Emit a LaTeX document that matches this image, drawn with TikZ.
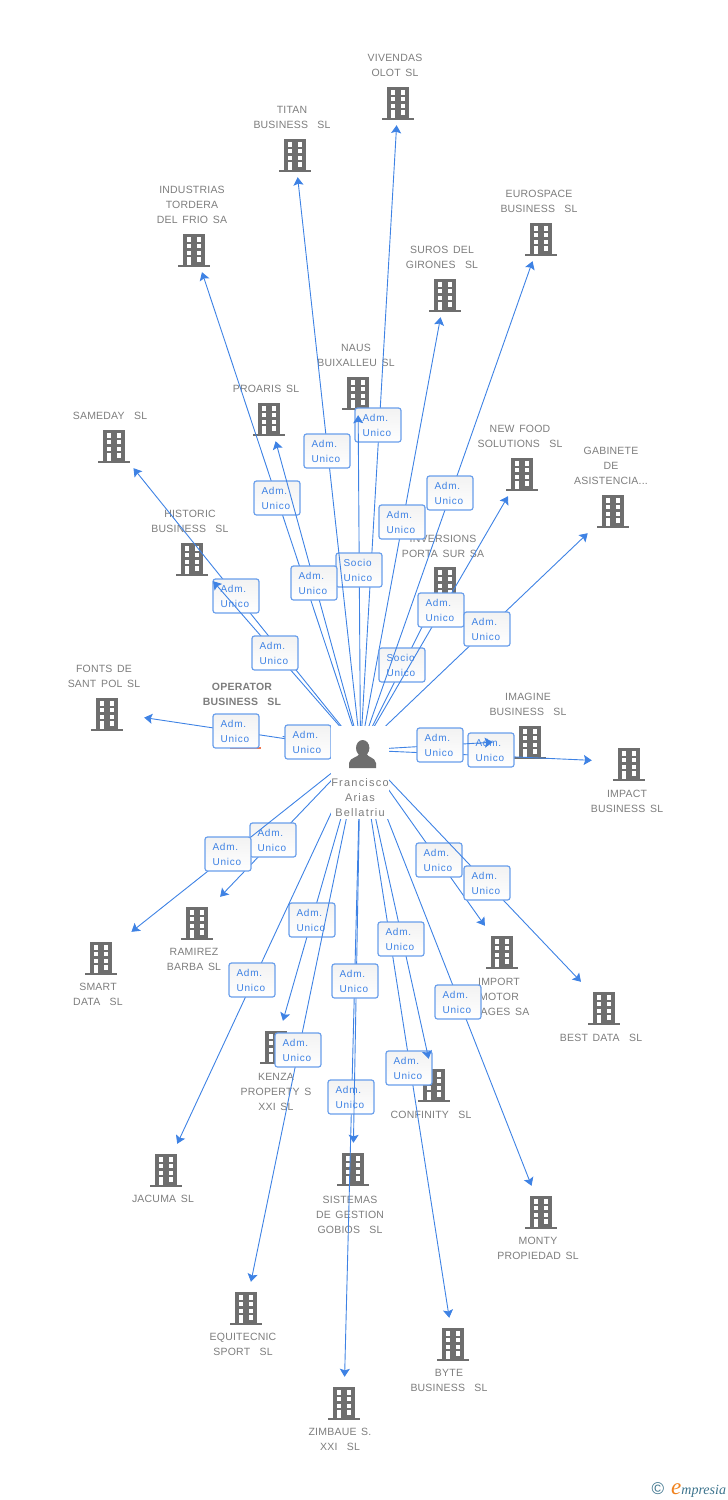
\documentclass[tikz,border=0pt]{standalone}
\usepackage{fontspec}
\setmainfont[LetterSpace=2,WordSpace=1.5]{Liberation Sans}
\newfontfamily\admfont[LetterSpace=8]{Liberation Sans}
\newfontfamily\personfont[LetterSpace=11]{Liberation Sans}
\newfontfamily\logofont{Liberation Serif}
\usetikzlibrary{arrows.meta}
\definecolor{bgray}{RGB}{110,110,110}
\definecolor{tgray}{RGB}{125,125,125}
\definecolor{lblue}{RGB}{62,130,228}
\definecolor{bxblue}{RGB}{105,158,235}
\definecolor{porange}{RGB}{240,120,80}
\definecolor{logoteal}{RGB}{60,115,140}
\definecolor{logoorange}{RGB}{240,130,30}
\newcommand{\buildingicon}[1]{%
  \begin{scope}[shift={(path picture bounding box.center)}]
  \fill[#1] (-11,-14.5) rectangle (11,18);
  \fill[#1] (-15.7,17) rectangle (15.7,18.8);
  \fill[white] (-7.3,-11) rectangle (-2.6,-6.5);
  \fill[white] (2.6,-11) rectangle (7.3,-6.5);
  \fill[white] (-7.3,-4) rectangle (-2.6,.3);
  \fill[white] (2.6,-4) rectangle (7.3,.3);
  \fill[white] (-7.3,2.7) rectangle (-2.6,7);
  \fill[white] (2.6,2.7) rectangle (7.3,7);
  \fill[white] (-7.3,9) rectangle (-2.6,17);
  \fill[white] (2.6,9) rectangle (7.3,13.7);
  \end{scope}}
\tikzset{
  building/.style={rectangle,minimum width=74pt,minimum height=48pt,inner sep=0pt,yshift=2pt,path picture={\buildingicon{bgray}}},
  mainbuilding/.style={rectangle,minimum width=74pt,minimum height=48pt,inner sep=0pt,yshift=2pt,path picture={\buildingicon{porange}}},
  nametext/.style={inner sep=0pt,align=center,text=tgray,font=\fontsize{10.5}{15}\selectfont},
  maintext/.style={inner sep=0pt,align=center,text=tgray,font=\fontsize{10.5}{15}\selectfont\bfseries},
  persontext/.style={inner sep=0pt,align=center,text=tgray,font=\personfont\fontsize{11}{15}\selectfont},
  link/.style={color=lblue,line width=.9pt,-{Stealth[length=8pt,width=10pt,inset=1.5pt]}},
  plainlink/.style={color=lblue,line width=.9pt},
  admbox/.style={draw=bxblue,line width=1.2pt,rounded corners=2.5pt,top color=gray!10,bottom color=white,
    text width=31pt,inner xsep=7.5pt,inner ysep=0pt,minimum height=34pt,align=left,text=lblue,
    font=\admfont\fontsize{10}{15}\selectfont},
  hidebox/.style={fill=white,minimum width=58pt,minimum height=93pt,inner sep=0pt}
}
\begin{document}
\begin{tikzpicture}[x=1pt,y=-1pt]
  \useasboundingbox (0,0) rectangle (728,1500);
  % buildings
  \node[building] (vivendas) at (398,103) {};
  \node[building] (titan) at (295,155) {};
  \node[building] (industrias) at (194,250) {};
  \node[building] (eurospace) at (541,239) {};
  \node[building] (suros) at (445,295) {};
  \node[building] (naus) at (358,393) {};
  \node[building] (proaris) at (269,419) {};
  \node[building] (sameday) at (114,446) {};
  \node[building] (historic) at (192,559) {};
  \node[building] (newfood) at (522,474) {};
  \node[building] (inversiones) at (445,583) {};
  \node[building] (gabinete) at (613,511) {};
  \node[building] (fonts) at (107,714) {};
  \node[mainbuilding] (operator) at (245.5,732) {};
  \node[building] (imagine) at (530,742) {};
  \node[building] (impact) at (629,764) {};
  \node[building] (smart) at (101,958) {};
  \node[building] (ramirez) at (197,923) {};
  \node[building] (kenza) at (276,1047) {};
  \node[building] (jacuma) at (166,1170) {};
  \node[building] (equitecnic) at (246,1308) {};
  \node[building] (sistemas) at (353,1169) {};
  \node[building] (zimbaue) at (344,1403) {};
  \node[building] (confinity) at (434,1085) {};
  \node[building] (byte) at (453,1344) {};
  \node[building] (importm) at (502,952) {};
  \node[building] (bestdata) at (604,1008) {};
  \node[building] (monty) at (541,1212) {};
  % names
  \node[nametext] (vivendastext) at (395,65) {VIVENDAS\\OLOT SL};
  \node[nametext] (titantext) at (292,117) {TITAN\\BUSINESS\ \ SL};
  \node[nametext] (industriastext) at (192,204.5) {INDUSTRIAS\\TORDERA\\DEL FRIO SA};
  \node[nametext] (eurospacetext) at (539,201) {EUROSPACE\\BUSINESS\ \ SL};
  \node[nametext] (surostext) at (442,257) {SUROS DEL\\GIRONES\ \ SL};
  \node[nametext] (naustext) at (356,355) {NAUS\\BUIXALLEU SL};
  \node[nametext] (proaristext) at (266,388.5) {PROARIS SL};
  \node[nametext] (samedaytext) at (110,415.5) {SAMEDAY\ \ SL};
  \node[nametext] (historictext) at (190,521) {HISTORIC\\BUSINESS\ \ SL};
  \node[nametext] (newfoodtext) at (520,436) {NEW FOOD\\SOLUTIONS\ \ SL};
  \node[nametext] (inversionestext) at (443,546) {INVERSIONS\\PORTA SUR SA};
  \node[nametext] (gabinetetext) at (611,465.5) {GABINETE\\DE\\ASISTENCIA...};
  \node[nametext] (fontstext) at (104,676) {FONTS DE\\SANT POL SL};
  \node[maintext] (operatortext) at (242,694.5) {OPERATOR\\BUSINESS\ \ SL};
  \node[nametext] (imaginetext) at (528,704) {IMAGINE\\BUSINESS\ \ SL};
  \node[nametext] (impacttext) at (627,801) {IMPACT\\BUSINESS SL};
  \node[nametext] (smarttext) at (98,994.5) {SMART\\DATA\ \ SL};
  \node[nametext] (ramireztext) at (194,959.5) {RAMIREZ\\BARBA SL};
  \node[nametext] (kenzatext) at (276,1091.5) {KENZA\\PROPERTY S\\XXI SL};
  \node[nametext] (jacumatext) at (163,1198.5) {JACUMA SL};
  \node[nametext] (equitecnictext) at (243,1344.5) {EQUITECNIC\\SPORT\ \ SL};
  \node[nametext] (sistemastext) at (350,1214.5) {SISTEMAS\\DE GESTION\\GOBIOS\ \ SL};
  \node[nametext] (zimbauetext) at (340,1439.5) {ZIMBAUE S.\\XXI\ \ SL};
  \node[nametext] (confinitytext) at (431,1114.5) {CONFINITY\ \ SL};
  \node[nametext] (bytetext) at (449,1380.5) {BYTE\\BUSINESS\ \ SL};
  \node[nametext] (importmtext) at (499,996.5) {IMPORT\\MOTOR\\IMAGES SA};
  \node[nametext] (bestdatatext) at (601,1037.5) {BEST DATA\ \ SL};
  \node[nametext] (montytext) at (538,1248.5) {MONTY\\PROPIEDAD SL};
  % links and their role boxes
  \coordinate (francisco) at (360.5,750);
  \draw[link] (francisco) -- (vivendas);
  \node[admbox] (vivendasrole) at (378,425) {Adm.\\Unico};
  \draw[link] (francisco) -- (naus);
  \node[admbox] (naussrole) at (359,570) {Socio\\Unico};
  \draw[link] (francisco) -- (titan);
  \node[admbox] (titanrole) at (327,451) {Adm.\\Unico};
  \draw[link] (francisco) -- (industrias);
  \node[admbox] (industriasrole) at (277,498) {Adm.\\Unico};
  \draw[link] (francisco) -- (proaris);
  \node[admbox] (proarisrole) at (314,583) {Adm.\\Unico};
  \draw[link] (francisco) -- (sameday);
  \node[admbox] (samedayrole) at (236,596) {Adm.\\Unico};
  \draw[link] (francisco) -- (historic);
  \node[admbox] (historicrole) at (275,653) {Adm.\\Unico};
  \draw[link] (francisco) -- (suros);
  \node[admbox] (surosrole) at (402,522) {Adm.\\Unico};
  \draw[link] (francisco) -- (inversiones);
  \node[admbox] (inversionesrole) at (402,665) {Socio\\Unico};
  \draw[link] (francisco) -- (eurospace);
  \node[admbox] (eurospacerole) at (450,493) {Adm.\\Unico};
  \draw[link] (francisco) -- (newfood);
  \node[admbox] (newfoodrole) at (441,610) {Adm.\\Unico};
  \draw[link] (francisco) -- (gabinete);
  \node[admbox] (gabineterole) at (487,629) {Adm.\\Unico};
  \draw[link] (francisco) -- (fonts);
  \node[admbox] (fontsrole) at (236,731) {Adm.\\Unico};
  \draw[plainlink] (francisco) -- (operator);
  \node[admbox] (operatorrole) at (308,742) {Adm.\\Unico};
  \draw[link] (francisco) -- (impact);
  \node[admbox] (impactrole) at (491,750) {Adm.\\Unico};
  \draw[link] (francisco) -- (imagine);
  \node[admbox] (imaginerole) at (440,745) {Adm.\\Unico};
  \draw[link] (francisco) -- (ramirez);
  \node[admbox] (ramirezrole) at (273,840) {Adm.\\Unico};
  \draw[link] (francisco) -- (smart);
  \node[admbox] (smartrole) at (228,854) {Adm.\\Unico};
  \draw[link] (francisco) -- (kenza);
  \node[admbox] (kenzarole) at (312,920) {Adm.\\Unico};
  \draw[link] (francisco) -- (jacuma);
  \node[admbox] (jacumarole) at (252,980) {Adm.\\Unico};
  \draw[link] (francisco) -- (equitecnic);
  \node[admbox] (equitecnicrole) at (298,1050) {Adm.\\Unico};
  \draw[link] (francisco) -- (zimbaue);
  \node[admbox] (zimbauerole) at (351,1097) {Adm.\\Unico};
  \draw[link] (francisco) -- (sistemas);
  \node[admbox] (sistemasrole) at (355,981) {Adm.\\Unico};
  \draw[link] (francisco) -- (byte);
  \node[admbox] (byterole) at (409,1068) {Adm.\\Unico};
  \draw[link] (francisco) -- (confinity);
  \node[admbox] (confinityrole) at (401,939) {Adm.\\Unico};
  \draw[link] (francisco) -- (importm);
  \node[admbox] (importmrole) at (439,860) {Adm.\\Unico};
  \draw[link] (francisco) -- (bestdata);
  \node[admbox] (bestdatarole) at (487,883) {Adm.\\Unico};
  \draw[link] (francisco) -- (monty);
  \node[admbox] (montyrole) at (458,1002) {Adm.\\Unico};
  % person
  \node[hidebox] (personbox) at (360,772.5) {};
  \fill[bgray] (362.7,748) ellipse (6.7 and 8);
  \fill[bgray] (349,768) -- (349,763) .. controls (350,757) and (358,758) .. (360,753)
    -- (366,753) .. controls (368,758) and (375,757) .. (376,763) -- (376,768) -- cycle;
  \node[persontext] (personname) at (360,797.5) {Francisco\\Arias\\Bellatriu};
  % logo
  \node[inner sep=0pt,text=logoteal,font=\fontsize{17}{17}\selectfont] (logoc) at (658,1489) {\textcopyright};
  \node[inner sep=0pt,text=logoteal,anchor=base west,font=\logofont\itshape\fontsize{14}{14}\selectfont] (logotext) at (671,1494)
    {{\color{logoorange}\fontsize{23}{23}\selectfont e}mpresia};
\end{tikzpicture}
\end{document}
